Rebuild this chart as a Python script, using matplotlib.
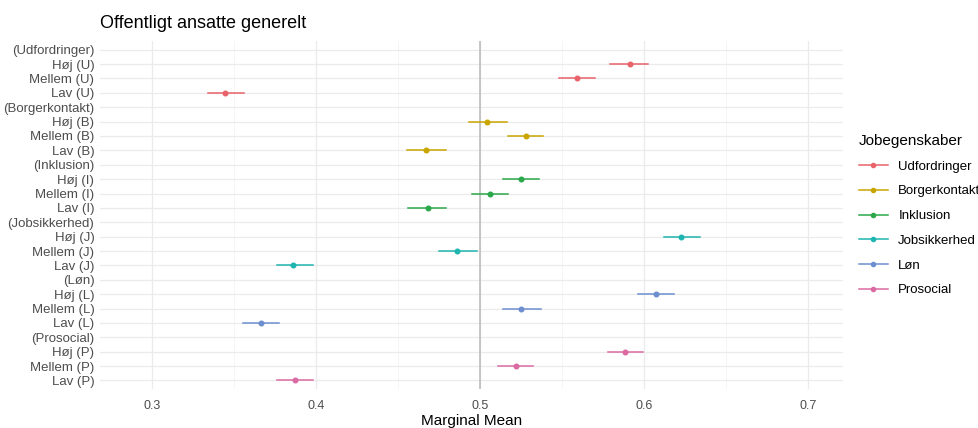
import numpy as np
import matplotlib.pyplot as plt
from matplotlib.lines import Line2D

plt.rcParams["font.family"] = ["Liberation Sans", "DejaVu Sans"]

rows = ["(Udfordringer)", "Høj (U)", "Mellem (U)", "Lav (U)",
        "(Borgerkontakt)", "Høj (B)", "Mellem (B)", "Lav (B)",
        "(Inklusion)", "Høj (I)", "Mellem (I)", "Lav (I)",
        "(Jobsikkerhed)", "Høj (J)", "Mellem (J)", "Lav (J)",
        "(Løn)", "Høj (L)", "Mellem (L)", "Lav (L)",
        "(Prosocial)", "Høj (P)", "Mellem (P)", "Lav (P)"]

groups = ["Udfordringer", "Borgerkontakt", "Inklusion", "Jobsikkerhed", "Løn", "Prosocial"]
colors = ["#E8636A", "#C9A500", "#2BA84A", "#1FB5B0", "#6D8FCF", "#DB6AA3"]

# estimates for Høj, Mellem, Lav in each group
est = [[0.591, 0.559, 0.344],
       [0.504, 0.528, 0.467],
       [0.525, 0.506, 0.468],
       [0.622, 0.486, 0.386],
       [0.607, 0.525, 0.366],
       [0.588, 0.522, 0.387]]
lower = [[0.579, 0.548, 0.334],
         [0.493, 0.517, 0.455],
         [0.514, 0.495, 0.456],
         [0.612, 0.475, 0.376],
         [0.596, 0.514, 0.355],
         [0.578, 0.511, 0.376]]
upper = [[0.602, 0.570, 0.356],
         [0.516, 0.538, 0.479],
         [0.536, 0.517, 0.479],
         [0.634, 0.498, 0.398],
         [0.618, 0.537, 0.377],
         [0.599, 0.532, 0.398]]

fig = plt.figure(figsize=(9.79, 4.28), dpi=100)
ax = fig.add_axes([0.102, 0.091, 0.759, 0.813])

n = len(rows)
ypos = np.arange(n)[::-1]

ax.set_xticks([0.3, 0.4, 0.5, 0.6, 0.7])
ax.set_xticklabels(["0.3", "0.4", "0.5", "0.6", "0.7"])
ax.set_xticks([0.25, 0.35, 0.45, 0.55, 0.65, 0.75], minor=True)
ax.set_xlim(0.268, 0.721)
ax.set_ylim(-0.6, n - 0.4)
ax.set_yticks(ypos)
ax.set_yticklabels(rows)
ax.tick_params(axis="both", length=0, colors="#4D4D4D", labelsize=9.5)
ax.tick_params(axis="y", pad=4)
ax.tick_params(axis="x", pad=8, labelsize=9)
ax.tick_params(axis="x", which="minor", length=0)
for s in ax.spines.values():
    s.set_visible(False)

ax.grid(True, which="major", color="#EBEBEB", lw=0.9)
ax.grid(True, which="minor", axis="x", color="#F2F2F2", lw=0.5)
ax.set_axisbelow(True)
ax.axvline(0.5, color="#BDBDBD", lw=1.2, zorder=1)

for g in range(len(groups)):
    for k in range(3):
        y = ypos[g * 4 + 1 + k]
        ax.plot([lower[g][k], upper[g][k]], [y, y], color=colors[g], lw=1.1, zorder=3)
        ax.plot(est[g][k], y, "o", color=colors[g], ms=3.3, zorder=4)

ax.set_xlabel("Marginal Mean", fontsize=11, labelpad=1)
fig.text(0.102, 0.945, "Offentligt ansatte generelt", fontsize=13, ha="left", va="center")

handles = [Line2D([0], [0], color=c, lw=1.1, marker="o", ms=3) for c in colors]
leg = fig.legend(handles, groups, title="Jobegenskaber", loc="upper left",
                 bbox_to_anchor=(0.865, 0.715), frameon=False, fontsize=9.5,
                 title_fontsize=11, handlelength=2.2, labelspacing=0.95,
                 alignment="left")

fig.savefig("out.png", dpi=100)
